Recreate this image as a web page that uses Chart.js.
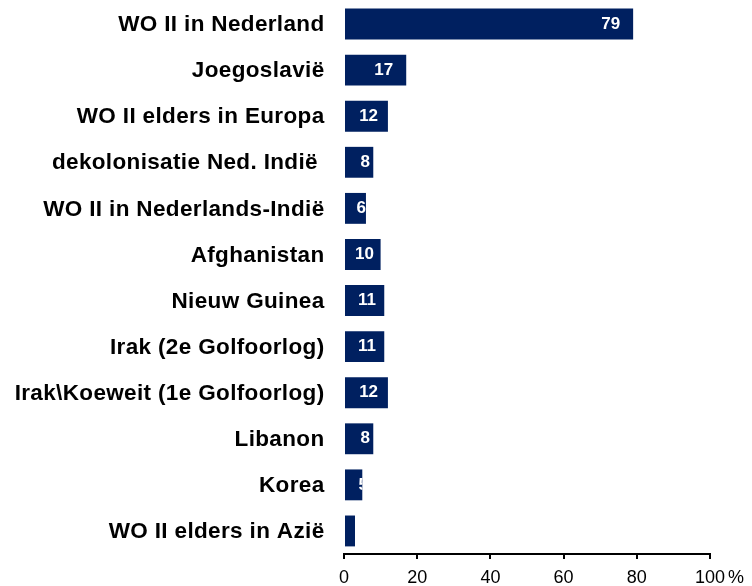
<!DOCTYPE html>
<html>
<head>
<meta charset="utf-8">
<script src="https://cdn.jsdelivr.net/npm/chart.js@4/dist/chart.umd.min.js"></script>
<style>
  body { margin: 0; background: #fff; }
  canvas { display: block; }
</style>
</head>
<body>
<canvas id="chart" width="752" height="586"></canvas>
<script>
const categories = [
  'WO II in Nederland',
  'Joegoslavië',
  'WO II elders in Europa',
  'dekolonisatie Ned. Indië ',
  'WO II in Nederlands-Indië',
  'Afghanistan',
  'Nieuw Guinea',
  'Irak (2e Golfoorlog)',
  'Irak\\Koeweit (1e Golfoorlog)',
  'Libanon',
  'Korea',
  'WO II elders in Azië'
];
const values = [79, 17, 12, 8, 6, 10, 11, 11, 12, 8, 5, 3];
const xTicks = [0, 20, 40, 60, 80, 100];
const barColor = '#002060';

const labelPlugin = {
  id: 'labels',
  afterDatasetsDraw(chart) {
    const ctx = chart.ctx;
    const meta = chart.getDatasetMeta(0);
    const yScale = chart.scales.y;
    const xScale = chart.scales.x;

    // category names on the left
    ctx.save();
    ctx.fillStyle = '#000';
    ctx.font = 'bold 22.5px "Liberation Sans", Arial, sans-serif';
    ctx.letterSpacing = '0.35px';
    ctx.textAlign = 'right';
    ctx.textBaseline = 'middle';
    categories.forEach((c, i) => {
      ctx.fillText(c, 324.5, yScale.getPixelForTick(i) + 1);
    });
    ctx.restore();

    // values inside the bars near the end, clipped to the bar
    meta.data.forEach((bar, i) => {
      const start = bar.base;
      const end = bar.x;
      const top = bar.y - bar.height / 2;
      const len = end - start;
      const txt = String(values[i]);
      const inset = len < 21 ? (len - 21) * 1.5 : Math.min(13, (len - 21) * 0.45);
      ctx.save();
      ctx.beginPath();
      ctx.rect(start, top, len, bar.height);
      ctx.clip();
      ctx.font = 'bold 17px "Liberation Sans", Arial, sans-serif';
      ctx.fillStyle = '#fff';
      ctx.textAlign = 'right';
      ctx.textBaseline = 'middle';
      ctx.fillText(txt, end - inset, bar.y);
      ctx.restore();
    });

    // "%" after the last tick
    ctx.save();
    ctx.font = '18px "Liberation Sans", Arial, sans-serif';
    ctx.fillStyle = '#000';
    ctx.textAlign = 'left';
    ctx.textBaseline = 'middle';
    ctx.fillText('%', xScale.getPixelForValue(100) + 18, 578);
    ctx.restore();
  }
};

new Chart(document.getElementById('chart'), {
  type: 'bar',
  data: {
    labels: categories,
    datasets: [{
      data: values,
      backgroundColor: barColor,
      borderWidth: 0,
      barPercentage: 0.67,
      categoryPercentage: 1
    }]
  },
  options: {
    indexAxis: 'y',
    responsive: false,
    animation: false,
    layout: { padding: { left: 344, right: 42, top: 1, bottom: 0 } },
    plugins: {
      legend: { display: false },
      tooltip: { enabled: false }
    },
    scales: {
      y: { display: false },
      x: {
        min: 0,
        max: 100,
        afterBuildTicks(scale) {
          scale.ticks = xTicks.map(v => ({ value: v }));
        },
        afterFit(scale) { scale.height = 32; },
        border: { display: true, color: '#000', width: 2 },
        grid: {
          drawOnChartArea: false,
          drawTicks: true,
          tickLength: 5,
          color: '#000',
          lineWidth: 2
        },
        ticks: {
          color: '#000',
          padding: 8,
          maxRotation: 0,
          font: { family: '"Liberation Sans", Arial, sans-serif', size: 18 }
        }
      }
    }
  },
  plugins: [labelPlugin]
});
</script>
</body>
</html>
